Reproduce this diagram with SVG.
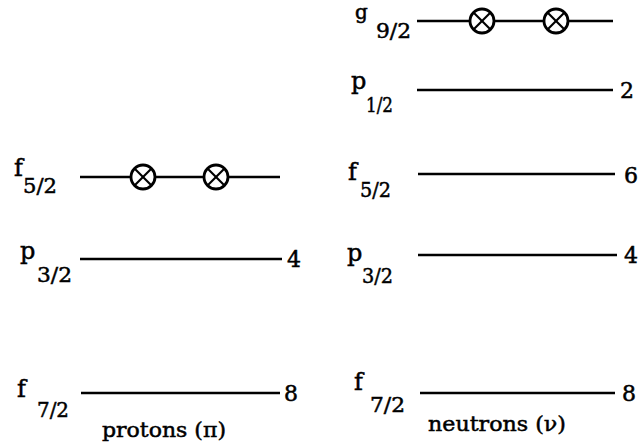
<svg xmlns="http://www.w3.org/2000/svg" width="641" height="447" viewBox="0 0 641 447">
  <defs>
    <style>
      .lvl { stroke: #000; stroke-width: 2.4; fill: none; }
      .occ { stroke: #000; stroke-width: 2.8; fill: #fff; }
      .x { stroke: #000; stroke-width: 2.2; }
      .t { fill: #000; stroke: #000; stroke-width: 0.5; font-family: "DejaVu Serif", "Liberation Serif", serif; }
      .m { font-size: 24px; }
      .g { font-size: 20px; }
      .s { font-size: 21px; }
      .n { font-size: 22px; }
      .cap { font-size: 21px; }
    </style>
    <g id="occ">
      <circle class="occ" cx="0" cy="0" r="12"/>
      <line class="x" x1="-8.5" y1="-8.5" x2="8.5" y2="8.5"/>
      <line class="x" x1="-8.5" y1="8.5" x2="8.5" y2="-8.5"/>
    </g>
  </defs>
  <rect width="641" height="447" fill="#fff"/>

  <g id="connectors">
    <line class="lvl" x1="80" y1="177" x2="280" y2="177"/>
    <line class="lvl" x1="80" y1="259" x2="282" y2="259"/>
    <line class="lvl" x1="81" y1="393" x2="280" y2="393"/>
    <line class="lvl" x1="417" y1="21" x2="613" y2="21"/>
    <line class="lvl" x1="417" y1="90" x2="613" y2="90"/>
    <line class="lvl" x1="418" y1="174" x2="615" y2="174"/>
    <line class="lvl" x1="418" y1="255" x2="617" y2="255"/>
    <line class="lvl" x1="420" y1="393" x2="615" y2="393"/>
  </g>

  <g class="t">
  <g id="proton-f52">
    <text class="m" x="14" y="176">f</text>
    <text class="s" x="23" y="193" textLength="34" lengthAdjust="spacingAndGlyphs">5/2</text>
  </g>
  <g id="proton-p32">
    <text class="m" x="20" y="259">p</text>
    <text class="s" x="37" y="282" textLength="35" lengthAdjust="spacingAndGlyphs">3/2</text>
    <text class="n" x="287" y="267">4</text>
  </g>
  <g id="proton-f72">
    <text class="m" x="17" y="397">f</text>
    <text class="s" x="37" y="417" textLength="32" lengthAdjust="spacingAndGlyphs">7/2</text>
    <text class="n" x="284" y="401">8</text>
  </g>
  <g id="proton-caption">
    <text class="cap" x="102" y="437" textLength="124" lengthAdjust="spacingAndGlyphs">protons (π)</text>
  </g>
  <g id="neutron-g92">
    <text class="g" x="355" y="19">g</text>
    <text class="s" x="376" y="38" textLength="35" lengthAdjust="spacingAndGlyphs">9/2</text>
  </g>
  <g id="neutron-p12">
    <text class="m" x="351" y="89">p</text>
    <text class="s" x="366" y="112" textLength="27" lengthAdjust="spacingAndGlyphs">1/2</text>
    <text class="n" x="620" y="98">2</text>
  </g>
  <g id="neutron-f52">
    <text class="m" x="348" y="180">f</text>
    <text class="s" x="360" y="197" textLength="31" lengthAdjust="spacingAndGlyphs">5/2</text>
    <text class="n" x="624" y="183">6</text>
  </g>
  <g id="neutron-p32">
    <text class="m" x="347" y="261">p</text>
    <text class="s" x="362" y="283" textLength="31" lengthAdjust="spacingAndGlyphs">3/2</text>
    <text class="n" x="624" y="263">4</text>
  </g>
  <g id="neutron-f72">
    <text class="m" x="354" y="390">f</text>
    <text class="s" x="370" y="412" textLength="35" lengthAdjust="spacingAndGlyphs">7/2</text>
    <text class="n" x="622" y="401">8</text>
  </g>
  <g id="neutron-caption">
    <text class="cap" x="428" y="431" textLength="138" lengthAdjust="spacingAndGlyphs">neutrons (ν)</text>
  </g>
  </g>

  <g id="occupancy">
    <use href="#occ" x="143" y="177"/>
    <use href="#occ" x="216" y="177"/>
    <use href="#occ" x="482" y="21"/>
    <use href="#occ" x="556" y="21"/>
  </g>
</svg>
